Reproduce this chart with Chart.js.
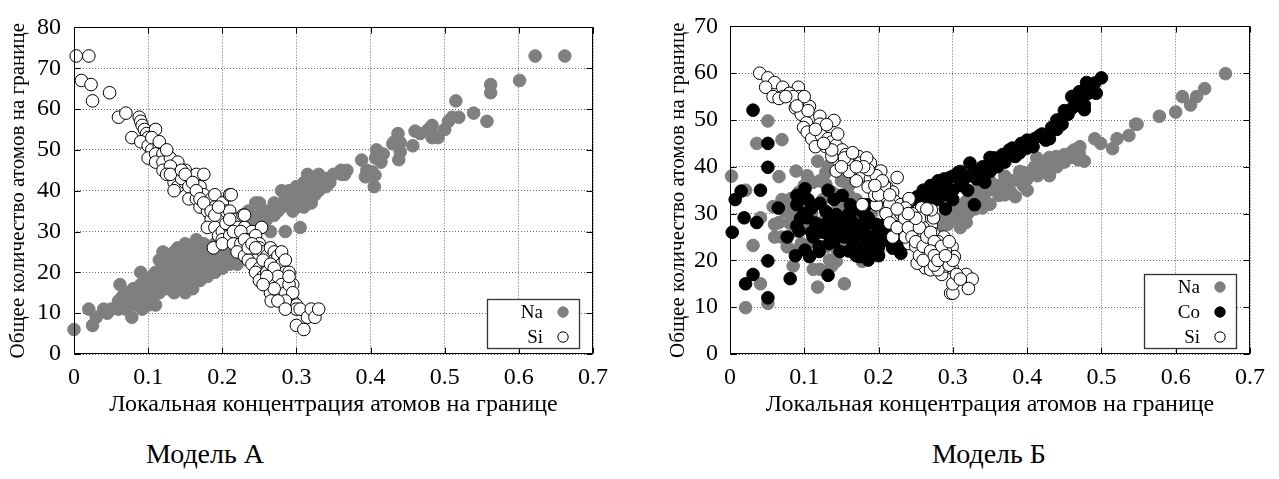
<!DOCTYPE html>
<html>
<head>
<meta charset="utf-8">
<script src="https://cdn.jsdelivr.net/npm/chart.js@4/dist/chart.umd.min.js"></script>
<style>
  html,body{margin:0;padding:0;background:#fff;}
  body{width:1279px;height:479px;position:relative;overflow:hidden;font-family:"Liberation Serif",serif;}
  .box{position:absolute;top:0;height:420px;}
  .cap{position:absolute;top:438px;font-family:"Liberation Serif",serif;font-size:28px;color:#000;text-align:center;width:300px;}
</style>
</head>
<body>
<div class="box" id="b1" style="left:0;width:620px;"><canvas id="c1"></canvas></div>
<div class="box" id="b2" style="left:640px;width:639px;"><canvas id="c2"></canvas></div>
<div class="cap" id="capA" style="left:55px;">Модель А</div>
<div class="cap" id="capB" style="left:839px;">Модель Б</div>
<script>
// ---- data ----
const xTickLabels = ['0','0.1','0.2','0.3','0.4','0.5','0.6','0.7'];
const yTickLabelsA = ['0','10','20','30','40','50','60','70','80'];
const yTickLabelsB = ['0','10','20','30','40','50','60','70'];
const xTitle = 'Локальная концентрация атомов на границе';
const yTitle = 'Общее количество атомов на границе';
const seriesNamesA = ['Na','Si'];
const seriesNamesB = ['Na','Co','Si'];

const naA = [
[0,6],[0.02,11],[0.025,7],[0.03,9],[0.04,11],[0.05,11],[0.045,10],
[0.06,11],[0.06,13],[0.062,17],[0.065,14],[0.07,11],[0.07,15],[0.075,12],[0.078,9],[0.08,13],[0.08,16],[0.085,12],[0.088,14],[0.09,17],[0.09,20],[0.092,11],[0.095,13],[0.097,15],[0.1,12],[0.1,18],[0.1,16],
[0.105,14],[0.105,19],[0.11,12],[0.11,17],[0.11,20],[0.115,23],[0.115,15],[0.12,18],[0.12,21],[0.12,25],[0.125,16],[0.125,19],[0.125,22],[0.13,17],[0.13,20],[0.13,24],[0.135,15],[0.135,18],[0.135,21],[0.135,25],[0.14,16],[0.14,19],[0.14,22],[0.14,26],[0.145,17],[0.145,20],[0.145,24],[0.15,15],[0.15,18],[0.15,21],[0.15,23],[0.15,27],
[0.155,17],[0.155,20],[0.155,24],[0.16,16],[0.16,19],[0.16,22],[0.16,26],[0.165,21],[0.165,25],[0.165,28],[0.17,18],[0.17,22],[0.17,24],[0.175,20],[0.175,23],[0.175,27],[0.18,19],[0.18,22],[0.18,25],[0.185,21],[0.185,24],[0.19,20],[0.19,23],[0.19,27],[0.195,22],[0.195,25],[0.2,21],[0.2,24],[0.2,28],[0.205,23],[0.205,26],[0.21,25],[0.21,22],[0.215,24],[0.22,22],[0.22,27],
[0.23,33],[0.235,35],[0.24,33],[0.245,37],[0.25,37],[0.25,34],[0.255,31],[0.26,35],[0.26,33],[0.265,30],[0.24,31],[0.235,29],[0.225,28],[0.23,30],[0.22,29],
[0.27,34],[0.27,37],[0.275,35],[0.28,36],[0.28,40],[0.285,30],[0.285,38],[0.29,37],[0.29,40],[0.295,35],[0.3,38],[0.3,41],[0.3,36],[0.305,31],[0.305,39],[0.31,36],[0.31,40],[0.31,42],[0.315,38],[0.315,44],[0.32,37],[0.32,40],[0.32,42],[0.325,39],[0.325,43],[0.33,40],[0.33,41],[0.33,44],[0.335,42],[0.34,41],[0.34,43],[0.345,42],[0.35,44],[0.36,45],[0.365,44],
[0.388,47.5],[0.395,45],[0.402,44.6],[0.393,43.4],[0.406,43.8],[0.405,41],[0.414,47],[0.408,50],[0.417,49],[0.407,48],[0.368,45],[0.361,44],
[0.437,54],[0.432,52],[0.44,51.8],[0.43,51.5],[0.457,51],[0.44,49.5],[0.438,47.6],[0.46,54.6],[0.467,54],[0.483,56],[0.478,55],[0.489,53.3],[0.483,53],[0.491,53],[0.5,55],[0.505,57],[0.51,58],[0.519,58],[0.515,62],[0.539,59],[0.557,57],[0.562,64],[0.562,66],[0.601,67],[0.622,73],[0.662,73]
];

const siA = [
[0.003,73],[0.02,73],[0.01,67],[0.023,66],[0.025,62],[0.048,64],[0.06,58],[0.07,59],[0.078,53],[0.088,58],[0.09,57],[0.092,56],[0.095,55],[0.098,54],[0.1,53],[0.11,55],[0.09,52],[0.1,51],[0.105,50],[0.115,51],[0.1,48],[0.11,49],[0.12,49],[0.11,47],[0.12,47],[0.13,48],[0.12,45],[0.14,47],[0.13,46],[0.125,44],[0.14,44],[0.15,45],[0.135,42],[0.14,41],[0.135,40],[0.15,42],[0.145,43],[0.16,43],[0.165,44],[0.175,44],[0.16,40],[0.17,41],[0.155,38],[0.165,38],[0.175,39],[0.18,37],[0.185,38],[0.19,39],[0.17,36],[0.18,35],[0.19,36],[0.2,37],[0.21,39],[0.185,33],[0.195,34],[0.2,33],[0.205,35],[0.21,35],[0.18,31],[0.19,31],[0.195,29],[0.2,30],[0.21,31],[0.215,33],[0.22,33],[0.228,34],[0.2,28],[0.21,29],[0.22,29],[0.22,31],[0.23,31],[0.24,30],[0.253,31],[0.188,26],[0.2,27],[0.215,27],[0.225,27],[0.235,28],[0.245,29],[0.25,27],[0.25,26],[0.22,25],[0.23,24],[0.24,25],[0.245,23],[0.255,25],[0.26,24],[0.265,26],[0.27,25],[0.235,23],[0.24,22],[0.25,21],[0.26,22],[0.27,23],[0.275,24],[0.28,25],[0.245,20],[0.255,19],[0.265,20],[0.275,21],[0.28,22],[0.285,23],[0.25,18],[0.26,17],[0.27,18],[0.28,19],[0.285,20],[0.29,20],[0.265,15],[0.275,16],[0.285,17],[0.295,17],[0.266,13],[0.28,14],[0.29,15],[0.295,13],[0.29,12],[0.3,12],[0.3,11],[0.305,11],[0.3,7],[0.31,6],[0.315,9],[0.32,11],[0.325,9],[0.33,11],[0.212,39],[0.23,34],
[0.105,53],[0.115,52],[0.125,50],[0.13,44],[0.145,45],[0.15,44],[0.155,41],[0.16,42],[0.165,40],[0.17,38],[0.175,37],[0.185,35],[0.19,34],[0.195,36],[0.205,32],[0.21,33],[0.215,30],[0.225,30],[0.23,28],[0.235,26],[0.24,27],[0.245,26],[0.255,23],[0.26,20],[0.265,22],[0.27,21],[0.275,19],[0.28,17],[0.285,15],[0.29,17],[0.295,15],[0.27,16],[0.26,19],[0.255,17],[0.285,13],[0.29,19],[0.275,13],[0.285,11]
];

const naB = [
[0.002,38],[0.021,35],[0.021,9.9],[0.031,23.2],[0.036,45],[0.041,15],[0.051,49.8],[0.051,10.8],[0.041,29.1],[0.066,37.9],[0.07,45.8],[0.058,31.5],[0.06,27.7],[0.066,28.1],[0.06,25],[0.069,25],[0.077,22.9],[0.085,18.8],[0.089,39.1],[0.082,33.2],[0.079,31.9],[0.093,34.6],[0.096,29.1],[0.088,26.3],[0.096,23.6],[0.09,22.2],[0.104,38.1],[0.112,36.7],[0.121,37],[0.129,36.3],[0.137,34.6],[0.145,33.9],[0.118,41.2],[0.118,14.3],[0.112,18.1],[0.121,18.1],[0.134,20.1],[0.143,19.8],[0.137,18.8],[0.154,15],[0.121,26.3],[0.129,29.1],[0.143,30.5],[0.137,25],[0.154,23.6],[0.164,22.2],[0.175,20.8],[0.178,19.8],[0.186,20.1],[0.129,38.8],[0.132,40.1],[0.154,27.7],[0.164,25.7],[0.154,31.9],[0.167,29.8],[0.181,28.4],[0.195,26.3],[0.208,25],[0.219,25.7],[0.074,30.5],[0.085,30.1],[0.1,32],[0.11,30],[0.1,27],[0.11,24],[0.12,22],[0.13,23],[0.145,22],[0.125,33],[0.14,28],[0.16,34],[0.17,33],[0.18,24],[0.19,23],[0.2,22],[0.15,37],[0.1,36],[0.09,31],[0.08,28],[0.07,33],[0.16,36],[0.19,30],[0.22,28],
[0.263,28.1],[0.274,27.7],[0.285,28.4],[0.293,27.7],[0.302,29.1],[0.313,29.8],[0.318,28.1],[0.296,30.5],[0.307,31.2],[0.318,32.6],[0.329,33.9],[0.34,31.2],[0.345,34.6],[0.351,35.3],[0.362,36],[0.373,36.7],[0.362,33.9],[0.378,34.6],[0.384,33.6],[0.395,36],[0.4,37.4],[0.406,38.8],[0.414,38.1],[0.422,39.8],[0.43,38.1],[0.428,40.8],[0.439,42.2],[0.45,42.6],[0.458,42.9],[0.463,43.6],[0.471,44.3],[0.469,41.5],[0.477,41.2],[0.491,46],[0.499,45],[0.515,43.9],[0.521,46],[0.537,46.7],[0.546,49.1],[0.548,49.1],[0.578,50.8],[0.6,51.7],[0.609,55],[0.62,53.2],[0.628,55],[0.639,56.7],[0.667,59.9],[0.413,41.9],[0.395,38.8],
[0.28,27],[0.29,30],[0.3,31],[0.31,27],[0.32,30],[0.33,31],[0.34,33],[0.35,32],[0.36,35],[0.37,34],[0.38,37],[0.39,37],[0.4,35],[0.41,40],[0.42,41],[0.43,42],[0.44,40],[0.45,41],[0.46,42],[0.47,43],[0.33,35],[0.35,37],[0.37,38],[0.39,39]
];

const coB = [
[0.031,52.1],[0.051,45],[0.051,39.9],[0.051,19.9],[0.051,12],[0.031,17],[0.021,15],[0.003,26],[0.007,33],[0.015,34.8],[0.019,29.1],[0.036,28.1],[0.041,35],[0.065,31.2],[0.077,25],[0.081,16.1],[0.088,21],[0.09,33.9],[0.09,31.9],[0.09,27.4],[0.093,26.3],[0.101,35.3],[0.101,22.2],[0.107,20.8],[0.12,21.9],[0.104,29.1],[0.11,31.2],[0.121,32.2],[0.129,30.5],[0.112,25],[0.132,35],[0.132,16.8],[0.143,29.8],[0.151,33.9],[0.162,31.9],[0.133,23.6],[0.148,21.9],
[0.137,25.7],[0.154,25.7],[0.164,24.3],[0.175,25.7],[0.184,24.3],[0.175,20.8],[0.186,20.1],[0.197,23.6],[0.208,24.3],[0.219,22.6],[0.23,21.5],[0.164,28.4],[0.178,27.7],[0.186,29.1],[0.197,27.7],[0.208,27],[0.184,31.9],[0.154,25],[0.137,27.7],[0.154,28.1],
[0.16,26],[0.17,27],[0.17,23],[0.18,26],[0.19,25],[0.19,28],[0.2,26],[0.2,23],[0.21,25],[0.21,28],[0.22,24],[0.22,27],[0.23,25],[0.23,23],[0.24,24],[0.24,27],[0.15,29],[0.16,30],[0.17,31],[0.18,30],[0.19,22],[0.2,21],[0.14,24],[0.145,27],[0.125,26],[0.13,28],[0.115,28],[0.105,33],[0.1,30],[0.095,29],[0.11,26],[0.12,23],[0.14,33],[0.16,22],[0.17,21],[0.185,22],
[0.252,33.6],[0.263,34.6],[0.274,33.2],[0.28,35.7],[0.288,37.4],[0.296,37.7],[0.307,38.8],[0.315,37.4],[0.323,40.8],[0.332,37.4],[0.329,31.9],[0.343,36.7],[0.351,40.1],[0.356,41.9],[0.367,42.6],[0.376,43.6],[0.384,42.2],[0.392,45],[0.4,45.7],[0.408,44.3],[0.417,46.7],[0.425,45.7],[0.433,48.4],[0.447,49.1],[0.44,48],[0.455,51.2],[0.461,52.6],[0.471,53.9],[0.477,52.2],[0.482,55.7],[0.493,55.7],[0.491,57.9],[0.482,56.7],[0.471,56],[0.463,55],[0.477,53.2],[0.5,59],
[0.25,32],[0.26,33],[0.26,35],[0.27,34],[0.27,36],[0.28,33],[0.28,37],[0.29,34],[0.29,36],[0.3,35],[0.3,33],[0.31,36],[0.31,39],[0.3,38],[0.32,38],[0.32,35],[0.33,39],[0.34,40],[0.34,38],[0.35,39],[0.35,42],[0.36,40],[0.37,41],[0.38,44],[0.39,43],[0.4,44],[0.41,46],[0.42,47],[0.43,46],[0.44,50],[0.45,52],[0.46,55],[0.47,56],[0.48,58],[0.29,31],[0.27,31]
];

const siB = [
[0.04,60],[0.051,59],[0.06,58],[0.048,57],[0.058,55],[0.071,57],[0.071,55],[0.066,54.6],[0.092,57],[0.093,55],[0.08,55.7],[0.088,52.6],[0.096,52.9],[0.107,52.9],[0.096,51.2],[0.103,49.4],[0.099,48.4],[0.104,47.4],[0.121,50.8],[0.121,49.1],[0.14,49.9],[0.11,46],[0.123,46.7],[0.132,46],[0.115,44.3],[0.129,44.3],[0.137,45.3],[0.143,44.6],[0.151,43.6],[0.156,42.6],[0.164,41.9],[0.173,42.2],[0.143,39.1],[0.156,40.8],[0.175,40.8],[0.189,40.8],[0.203,39.1],[0.164,38.8],[0.178,38.1],[0.189,37.4],[0.186,35.7],[0.203,36],[0.225,37.7],[0.211,35.7],[0.219,34.6],[0.208,33.6],[0.222,32.6],[0.23,31.9],[0.241,32.9],[0.252,30.5],[0.263,29.1],[0.271,27.4],[0.274,25.7],[0.288,25],[0.299,22.9],[0.302,20.8],[0.299,18.4],[0.318,17],[0.326,16],[0.321,14],[0.297,13],[0.3,13],[0.3,15],[0.285,17],[0.29,18.8],[0.282,20.8],[0.266,20.8],[0.263,18.4],[0.252,19.4],[0.258,22.2],[0.241,23.6],[0.236,25],[0.247,27],[0.23,28.1],[0.222,29.8],[0.208,31.2],[0.197,31.9],[0.195,33.9],[0.178,31.9],[0.219,25],[0.252,25.7],[0.263,25],[0.274,29.1],[0.271,30.8],[0.258,31.2],[0.241,33.2],[0.236,31.2],[0.208,36],[0.197,38.1],[0.186,39.4],[0.184,41.9],[0.159,40.8],[0.154,41.9],[0.137,42.2],[0.137,43.6],[0.126,45],
[0.245,28],[0.25,23],[0.255,21],[0.26,27],[0.265,23],[0.27,20],[0.275,22],[0.28,24],[0.285,21],[0.29,22],[0.27,18],[0.28,18],[0.26,26],[0.255,29],[0.265,31],[0.245,30],[0.23,30],[0.215,32],[0.2,34],[0.17,37],[0.16,39],[0.15,40],[0.145,47],[0.13,49],[0.115,48],[0.105,52],[0.085,55],[0.075,55],[0.1,55],[0.09,53],[0.295,19],[0.305,17],[0.31,16],[0.275,19],[0.3,20],
[0.21,30],[0.215,28],[0.225,27],[0.235,29],[0.24,27],[0.245,25],[0.25,24],[0.255,27],[0.26,23],[0.265,25],[0.27,26],[0.275,24],[0.28,22],[0.285,23],[0.27,22],[0.26,20],[0.275,21],[0.28,20],[0.29,21],[0.295,24],[0.25,29],[0.24,30],[0.225,31],[0.215,34],[0.205,37],[0.195,36],[0.18,40],[0.17,40],[0.165,43]
];

// ---- styles ----
const SERIF = '"Liberation Serif", "Times New Roman", serif';
const GREY = '#7f7f7f';
const toPts = arr => arr.map(p => ({x: p[0], y: p[1]}));

function makeDs(label, data, kind, order) {
  const st = {
    Na: {bg: GREY, bc: GREY},
    Co: {bg: '#000', bc: '#000'},
    Si: {bg: '#fff', bc: '#000'}
  }[kind];
  return {
    label, data: toPts(data), order,
    backgroundColor: st.bg, borderColor: st.bc,
    pointBackgroundColor: st.bg, pointBorderColor: st.bc,
    pointRadius: 6.3, pointBorderWidth: 1, pointHoverRadius: 6.3,
    clip: false
  };
}

const framePlugin = {
  id: 'frameLegend',
  afterDatasetsDraw(chart) {
    const {ctx, chartArea: a, scales} = chart;
    ctx.save();
    ctx.setLineDash([]);
    ctx.strokeStyle = '#000';
    ctx.lineWidth = 1;
    const L = Math.round(a.left) + 0.5, T = Math.round(a.top) + 0.5;
    const R = L + Math.round(a.right - a.left) - 1, B = T + Math.round(a.bottom - a.top) - 1;
    ctx.strokeRect(L, T, R - L, B - T);
    // inward tick marks on all four sides, at the library's tick positions
    ctx.beginPath();
    scales.x.ticks.forEach(t => {
      const px = Math.round(scales.x.getPixelForValue(t.value)) + 0.5;
      ctx.moveTo(px, B); ctx.lineTo(px, B - 6);
      ctx.moveTo(px, T); ctx.lineTo(px, T + 6);
    });
    scales.y.ticks.forEach(t => {
      const py = Math.round(scales.y.getPixelForValue(t.value)) + 0.5;
      ctx.moveTo(L, py); ctx.lineTo(L + 6, py);
      ctx.moveTo(R, py); ctx.lineTo(R - 6, py);
    });
    ctx.stroke();
    // legend box (label then marker), lower right inside the plot
    const ds = chart.data.datasets;
    const n = ds.length;
    const bw = 92, bh = 25 * n - 1;
    const bx = Math.round(a.right - 14 - bw), by = Math.round(a.bottom - 6 - bh);
    ctx.fillStyle = '#fff';
    ctx.fillRect(bx, by, bw, bh);
    ctx.strokeStyle = '#333';
    ctx.lineWidth = 1.3;
    ctx.strokeRect(bx + 0.5, by + 0.5, bw, bh);
    ctx.font = '19px ' + SERIF;
    ctx.textAlign = 'right';
    ctx.textBaseline = 'middle';
    ds.forEach((d, i) => {
      const cy = by + 13 + i * 25;
      ctx.fillStyle = '#000';
      ctx.fillText(d.label, bx + bw - 36, cy + 1);
      ctx.beginPath();
      ctx.arc(bx + bw - 16, cy, 5.2, 0, Math.PI * 2);
      ctx.fillStyle = d.pointBackgroundColor;
      ctx.fill();
      ctx.lineWidth = 1;
      ctx.strokeStyle = d.pointBorderColor;
      ctx.stroke();
    });
    ctx.restore();
  }
};

function makeChart(id, datasets, yMax, yLabels, yAxisW, titlePadTop, rightPad, tickPad) {
  return new Chart(document.getElementById(id), {
    type: 'scatter',
    data: {datasets},
    options: {
      responsive: true, maintainAspectRatio: false, animation: false,
      events: [],
      layout: {padding: {top: 16, right: rightPad, left: 0, bottom: 0}},
      plugins: {legend: {display: false}, tooltip: {enabled: false}},
      scales: {
        x: {
          type: 'linear', min: 0, max: 0.7,
          afterFit: s => { s.height = 66; },
          ticks: {stepSize: 0.1, color: '#000', padding: 9, maxRotation: 0,
                  font: {family: SERIF, size: 24},
                  callback: (v, i) => xTickLabels[i]},
          grid: {color: '#666', lineWidth: 1, drawTicks: false},
          border: {display: false, dash: [1, 2]},
          title: {display: true, text: xTitle, color: '#000', font: {family: SERIF, size: 24}, padding: {top: 0, bottom: 1}}
        },
        y: {
          type: 'linear', min: 0, max: yMax,
          afterFit: s => { s.width = yAxisW; },
          ticks: {stepSize: 10, color: '#000', padding: tickPad,
                  font: {family: SERIF, size: 24},
                  callback: (v, i) => yLabels[i]},
          grid: {color: '#666', lineWidth: 1, drawTicks: false},
          border: {display: false, dash: [1, 2]},
          title: {display: true, text: yTitle, color: '#000', font: {family: SERIF, size: 21}, padding: {top: titlePadTop, bottom: 0}}
        }
      }
    },
    plugins: [framePlugin]
  });
}

makeChart('c1', [
  makeDs(seriesNamesA[0], naA, 'Na', 2),
  makeDs(seriesNamesA[1], siA, 'Si', 0)
], 80, yTickLabelsA, 74, 6, 27, 13);

makeChart('c2', [
  makeDs(seriesNamesB[0], naB, 'Na', 2),
  makeDs(seriesNamesB[1], coB, 'Co', 1),
  makeDs(seriesNamesB[2], siB, 'Si', 0)
], 70, yTickLabelsB, 90, 26, 29, 12);
</script>
</body>
</html>
